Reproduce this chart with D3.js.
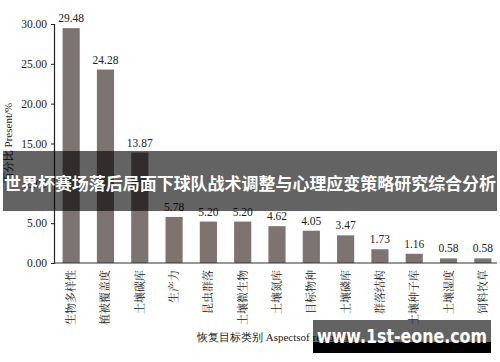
<!DOCTYPE html>
<html>
<head>
<meta charset="utf-8">
<script src="https://cdn.jsdelivr.net/npm/d3@7"></script>
<style>
  body { margin: 0; background: #fff; }
  svg { display: block; }
</style>
</head>
<body>
<script>
// chart data
var categories = ["生物多样性", "植被覆盖度", "土壤碳库", "生产力", "昆虫群落", "土壤微生物", "土壤氮库", "目标物种", "土壤磷库", "群落结构", "土壤种子库", "土壤湿度", "饲料牧草"];
var values = [29.48, 24.28, 13.87, 5.78, 5.20, 5.20, 4.62, 4.05, 3.47, 1.73, 1.16, 0.58, 0.58];
var y_ticks = [0, 5, 10, 15, 20, 25, 30];

var width = 500;
var height = 362;
var bar_color = "#7d7472";
var serif = "'Liberation Serif', 'Times New Roman', serif";
var cjk = "'Noto Sans CJK SC', sans-serif";

var svg = d3.select("body").append("svg")
    .attr("width", width)
    .attr("height", height);

var x_scale = d3.scaleBand()
    .domain(categories)
    .range([54, 500])
    .paddingInner(0.5)
    .paddingOuter(0.25);

var y_scale = d3.scaleLinear()
    .domain([0, 30])
    .range([263, 24]);

// y axis
var y_axis = svg.append("g")
    .attr("transform", "translate(54,0)")
    .call(d3.axisLeft(y_scale).tickValues(y_ticks).tickSize(3).tickPadding(4)
      .tickFormat(d3.format(".2f")));
y_axis.select(".domain").attr("stroke", "#222").attr("stroke-width", 1.2);
y_axis.selectAll(".tick line").attr("stroke", "#222");
y_axis.selectAll("text")
    .style("font-family", serif)
    .style("font-size", "11.5px")
    .attr("fill", "#222");

// bars
svg.append("g").selectAll(".bar")
    .data(values)
    .enter().append("rect")
    .attr("class", "bar")
    .attr("x", function(d, i) { return x_scale(categories[i]); })
    .attr("y", function(d) { return y_scale(d); })
    .attr("width", x_scale.bandwidth())
    .attr("height", function(d) { return y_scale(0) - y_scale(d); })
    .attr("fill", bar_color);

// x baseline
svg.append("line")
    .attr("x1", 54).attr("x2", 497)
    .attr("y1", y_scale(0)).attr("y2", y_scale(0))
    .attr("stroke", "#333")
    .attr("stroke-width", 1.2);

// value labels
svg.append("g").selectAll(".val")
    .data(values)
    .enter().append("text")
    .attr("x", function(d, i) { return x_scale(categories[i]) + x_scale.bandwidth() / 2; })
    .attr("y", function(d) { return y_scale(d) - 6; })
    .attr("text-anchor", "middle")
    .style("font-family", serif)
    .style("font-size", "11.5px")
    .attr("fill", "#222")
    .text(function(d) { return d.toFixed(2); });

// category labels, rotated
svg.append("g").selectAll(".cat")
    .data(categories)
    .enter().append("text")
    .attr("transform", function(d) {
      return "translate(" + (x_scale(d) + x_scale.bandwidth() / 2 + 4) + ",270) rotate(-90)";
    })
    .attr("text-anchor", "end")
    .style("font-family", "'Noto Serif CJK SC', " + cjk)
    .style("font-size", "11px")
    .attr("fill", "#222")
    .text(function(d) { return d; });

// axis titles
svg.append("text")
    .attr("x", 197)
    .attr("y", 341)
    .style("font-family", serif)
    .style("font-size", "11px")
    .attr("fill", "#222")
    .text("恢复目标类别 Aspectsof restoration");

svg.append("text")
    .attr("transform", "translate(12,143) rotate(-90)")
    .attr("text-anchor", "middle")
    .style("font-family", serif)
    .style("font-size", "11px")
    .attr("fill", "#222")
    .text("百分比 Present/%");

// title banner overlay
svg.append("rect")
    .attr("x", 3).attr("y", 151)
    .attr("width", 494).attr("height", 60)
    .attr("fill", "rgba(0,0,0,0.61)");
svg.append("text")
    .attr("x", 250)
    .attr("y", 190)
    .attr("text-anchor", "middle")
    .attr("textLength", 492)
    .attr("lengthAdjust", "spacingAndGlyphs")
    .style("font-family", cjk)
    .style("font-weight", "bold")
    .style("font-size", "17px")
    .attr("fill", "#fff")
    .text("世界杯赛场落后局面下球队战术调整与心理应变策略研究综合分析");

// watermark
svg.append("rect")
    .attr("x", 313).attr("y", 320)
    .attr("width", 178).attr("height", 22)
    .attr("fill", "rgba(0,0,0,0.61)");
svg.append("rect")
    .attr("x", 313).attr("y", 342)
    .attr("width", 178).attr("height", 11)
    .attr("fill", "#000");
svg.append("text")
    .attr("x", 317)
    .attr("y", 343)
    .attr("textLength", 170)
    .attr("lengthAdjust", "spacingAndGlyphs")
    .style("font-family", "'DejaVu Sans', sans-serif")
    .style("font-weight", "bold")
    .style("font-size", "19px")
    .attr("fill", "#fff")
    .text("www.1st-eone.com");
</script>
</body>
</html>
